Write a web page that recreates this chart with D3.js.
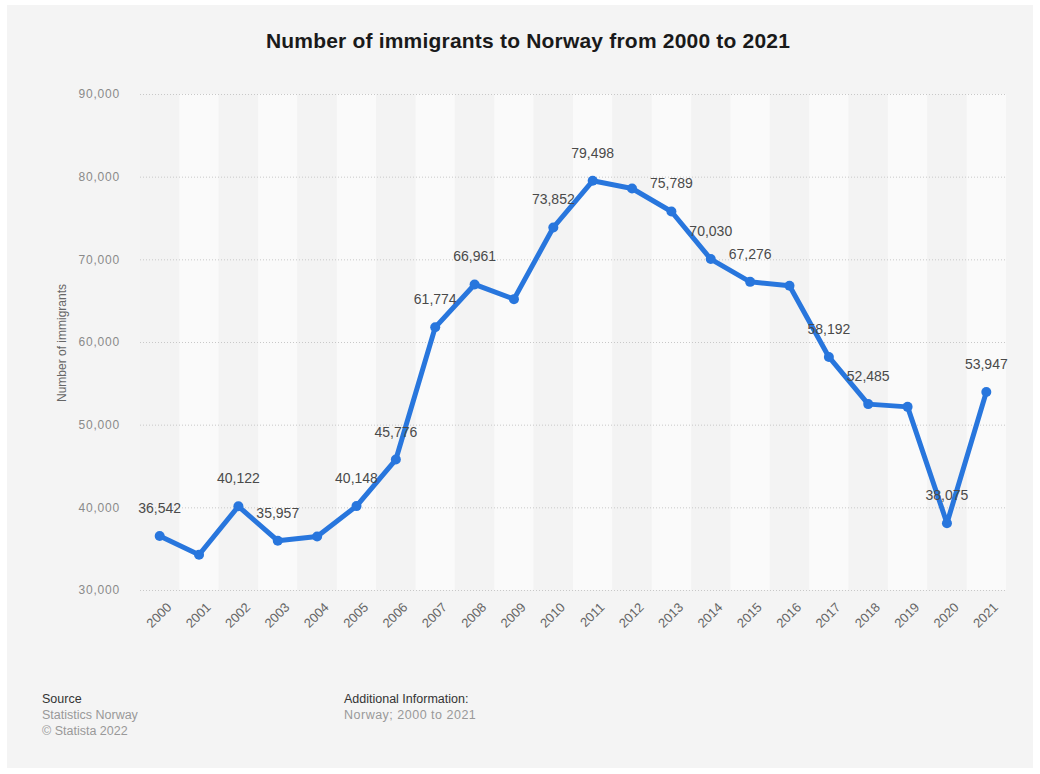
<!DOCTYPE html>
<html>
<head>
<meta charset="utf-8">
<script src="https://cdn.jsdelivr.net/npm/d3@7"></script>
<style>
  body { margin: 0; background: #ffffff; }
  svg text { font-family: "Liberation Sans", Arial, sans-serif; }
</style>
</head>
<body>
<script>
// immigrants to Norway, per year
var years = ["2000","2001","2002","2003","2004","2005","2006","2007","2008","2009","2010",
             "2011","2012","2013","2014","2015","2016","2017","2018","2019","2020","2021"];
var immigrants = [36542, 34264, 40122, 35957, 36482, 40148, 45776, 61774, 66961, 65186, 73852,
                  79498, 78570, 75789, 70030, 67276, 66800, 58192, 52485, 52153, 38075, 53947];
// which points carry a value label
var labelled = ["2000","2002","2003","2005","2006","2007","2008","2010","2011","2013",
                "2014","2015","2017","2018","2020","2021"];
var yTicks = [30000, 40000, 50000, 60000, 70000, 80000, 90000];

var width = 1040, height = 774;
var margin = {top: 94, right: 34, bottom: 184, left: 140};

var svg = d3.select("body")
            .append("svg")
            .attr("width", width)
            .attr("height", height);

// grey panel
svg.append("rect")
   .attr("x", 7).attr("y", 5)
   .attr("width", 1026).attr("height", 763)
   .style("fill", "#f4f4f4");

// title
svg.append("text")
   .attr("x", 528)
   .attr("y", 48)
   .attr("text-anchor", "middle")
   .style("font-size", "21px")
   .style("font-weight", "bold")
   .style("letter-spacing", "0.2px")
   .style("fill", "#1a1a1a")
   .text("Number of immigrants to Norway from 2000 to 2021");

var x = d3.scaleBand()
          .domain(years)
          .range([margin.left, width - margin.right]);

var y = d3.scaleLinear()
          .domain([30000, 90000])
          .range([height - margin.bottom, margin.top]);

var format = d3.format(",");

// alternating column bands
svg.append("g")
   .selectAll("rect")
   .data(years)
   .enter().append("rect")
   .attr("x", function(d) { return x(d); })
   .attr("y", y(90000))
   .attr("width", x.bandwidth())
   .attr("height", y(30000) - y(90000))
   .style("fill", function(d, i) { return i % 2 ? "#fafafa" : "#f3f3f3"; });

// y axis with dotted grid lines
var yAxis = svg.append("g")
   .attr("transform", "translate(" + margin.left + ",0)")
   .call(d3.axisLeft(y)
           .tickValues(yTicks)
           .tickSize(-(width - margin.left - margin.right))
           .tickFormat(format)
           .tickPadding(20));

yAxis.select(".domain").remove();
yAxis.selectAll("line")
     .style("stroke", "#c8c8c8")
     .style("stroke-dasharray", "1,2");
yAxis.selectAll("text")
     .style("font-size", "12px")
     .style("letter-spacing", "0.8px")
     .style("fill", "#8a8a8a");

// x axis
var xAxis = svg.append("g")
   .attr("transform", "translate(0," + (height - margin.bottom) + ")")
   .call(d3.axisBottom(x).tickSize(0).tickPadding(10));

xAxis.select(".domain").remove();
xAxis.selectAll("text")
     .style("font-size", "13px")
     .style("fill", "#666")
     .style("text-anchor", "end")
     .attr("dx", "-0.3em")
     .attr("dy", "0.9em")
     .attr("transform", "rotate(-45)");

// y label
svg.append("text")
   .attr("transform", "rotate(-90)")
   .attr("x", -343)
   .attr("y", 66)
   .attr("text-anchor", "middle")
   .style("font-size", "12px")
   .style("fill", "#666")
   .text("Number of immigrants");

var cx = function(d, i) { return x(years[i]) + x.bandwidth() / 2; };

// the line
var line = d3.line()
             .x(function(d, i) { return cx(d, i); })
             .y(function(d) { return y(d); });

svg.append("path")
   .datum(immigrants)
   .attr("d", line)
   .style("fill", "none")
   .style("stroke", "#2876dd")
   .style("stroke-width", 5)
   .style("stroke-linejoin", "round");

svg.append("g")
   .selectAll("circle")
   .data(immigrants)
   .enter().append("circle")
   .attr("cx", cx)
   .attr("cy", function(d) { return y(d); })
   .attr("r", 5)
   .style("fill", "#2876dd");

// value labels, only for the labelled years
var labelData = years.map(function(yr, i) { return {year: yr, value: immigrants[i]}; })
                     .filter(function(d) { return labelled.indexOf(d.year) >= 0; });

svg.append("g")
   .selectAll("text")
   .data(labelData)
   .enter().append("text")
   .attr("x", function(d) { return x(d.year) + x.bandwidth() / 2; })
   .attr("y", function(d) { return y(d.value) - 23; })
   .attr("text-anchor", "middle")
   .style("font-size", "14px")
   .style("fill", "#4a4a4a")
   .text(function(d) { return format(d.value); });

// footer
var foot = svg.append("g").style("font-size", "12.5px");
foot.append("text").attr("x", 42).attr("y", 703).style("fill", "#333").text("Source");
foot.append("text").attr("x", 42).attr("y", 719).style("fill", "#999").text("Statistics Norway");
foot.append("text").attr("x", 42).attr("y", 735).style("fill", "#999").text("© Statista 2022");
foot.append("text").attr("x", 344).attr("y", 703).style("fill", "#333").text("Additional Information:");
foot.append("text").attr("x", 344).attr("y", 719).style("fill", "#999")
    .style("letter-spacing", "0.5px").text("Norway; 2000 to 2021");
</script>
</body>
</html>
